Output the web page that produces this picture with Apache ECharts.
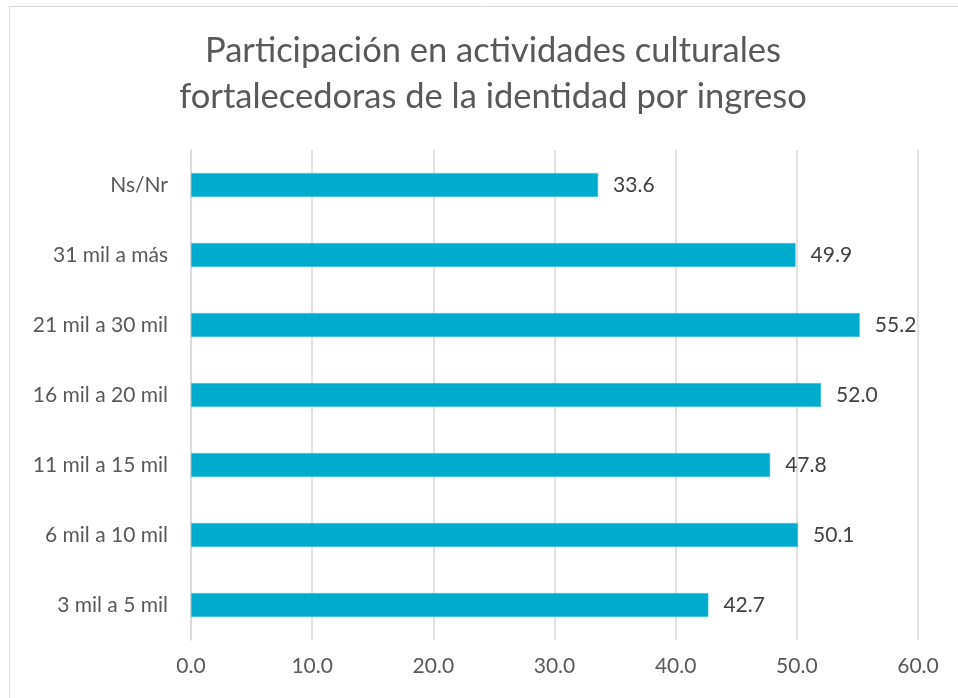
<!doctype html>
<html lang="es">
<head>
    <meta charset="UTF-8">
    <title>Participación por ingreso</title>
    <script src="https://cdn.jsdelivr.net/npm/echarts@6/dist/echarts.min.js"></script>
    <style>
        html, body { margin: 0; padding: 0; background: #fff; }
        #chart { width: 958px; height: 698px; }
    </style>
</head>
<body>
<div id="chart"></div>
<script>
    // datos (de abajo hacia arriba)
    var categorias = ['3 mil a 5 mil', '6 mil a 10 mil', '11 mil a 15 mil', '16 mil a 20 mil', '21 mil a 30 mil', '31 mil a más', 'Ns/Nr'];
    var valores = [42.7, 50.1, 47.8, 52.0, 55.2, 49.9, 33.6];
    var titulo = 'Participación en actividades culturales\nfortalecedoras de la identidad por ingreso';

    var chart = echarts.init(document.getElementById('chart'));
    var fuente = 'Lato, "Open Sans", sans-serif';

    chart.setOption({
        backgroundColor: '#fff',
        animation: false,
        title: {
            text: titulo,
            left: 488,
            top: 23,
            textAlign: 'center',
            textStyle: {
                color: '#595959',
                fontFamily: fuente,
                fontWeight: 400,
                fontSize: 34.5,
                lineHeight: 46
            }
        },
        graphic: [{
            type: 'rect',
            shape: { x: 9.5, y: 6.5, width: 970, height: 720 },
            style: { fill: 'none', stroke: '#d9d9d9', lineWidth: 1 },
            silent: true
        }],
        grid: { left: 191, right: 40, top: 150, bottom: 58 },
        xAxis: {
            type: 'value',
            min: 0,
            max: 60,
            interval: 10,
            axisLine: { show: false },
            axisTick: { show: false },
            splitLine: { lineStyle: { color: '#d9d9d9', width: 1.5 } },
            axisLabel: {
                margin: 16,
                color: '#595959',
                fontFamily: fuente,
                fontSize: 21
            ,
                formatter: function (v) { return v.toFixed(1); }
            }
        },
        yAxis: {
            type: 'category',
            data: categorias,
            axisLine: { show: true, lineStyle: { color: '#d9d9d9', width: 1.5 } },
            axisTick: { show: false },
            axisLabel: {
                margin: 23,
                color: '#595959',
                fontFamily: fuente,
                fontSize: 21
            }
        },
        series: [{
            type: 'bar',
            data: valores,
            barWidth: 24,
            itemStyle: { color: '#00abcd', borderColor: '#5fcde3', borderWidth: 0.5 },
            label: {
                show: true,
                position: 'right',
                distance: 15,
                color: '#404040',
                fontFamily: fuente,
                fontSize: 21,
                formatter: function (p) { return p.value.toFixed(1); }
            }
        }]
    });
</script>
</body>
</html>
